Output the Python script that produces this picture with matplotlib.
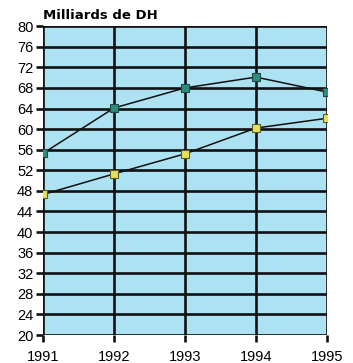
import matplotlib
matplotlib.use("Agg")
import matplotlib.pyplot as plt

# Données (milliards de DH)
annees = [1991, 1992, 1993, 1994, 1995]
serie_verte = [55.3, 64.1, 68.0, 70.1, 67.2]
serie_jaune = [47.3, 51.3, 55.2, 60.2, 62.1]
graduations_y = list(range(20, 81, 4))

plt.rcParams['font.family'] = ['Liberation Sans', 'DejaVu Sans']

fig = plt.figure(figsize=(3.53, 3.63), dpi=100)
ax = fig.add_axes([0.122, 0.077, 0.804, 0.851])
ax.set_facecolor('#ade2f3')

# Grille noire épaisse
for v in graduations_y:
    ax.axhline(v, color='#111111', lw=1.9, zorder=1)
for a in annees:
    ax.axvline(a, color='#111111', lw=1.9, zorder=1)

ax.plot(annees, serie_verte, color='#111111', lw=1.1, marker='s', ms=6,
        mfc='#2e8c7c', mec='#1d4a44', mew=0.8, zorder=3)
ax.plot(annees, serie_jaune, color='#111111', lw=1.1, marker='s', ms=6,
        mfc='#e6e05a', mec='#5a5a2a', mew=0.8, zorder=3)

ax.set_xlim(1991, 1995)
ax.set_ylim(20, 80)
ax.set_yticks(graduations_y)
ax.set_xticks(annees)
for s in ax.spines.values():
    s.set_visible(False)
ax.tick_params(axis='both', length=5, width=1.9, color='#111111',
               labelsize=10.5, pad=2)
ax.tick_params(axis='x', pad=6)

fig.text(0.122, 0.957, 'Milliards de DH', fontsize=9.5, fontweight='bold',
         family='DejaVu Sans', ha='left', va='center')

fig.savefig('out.png', dpi=100)
